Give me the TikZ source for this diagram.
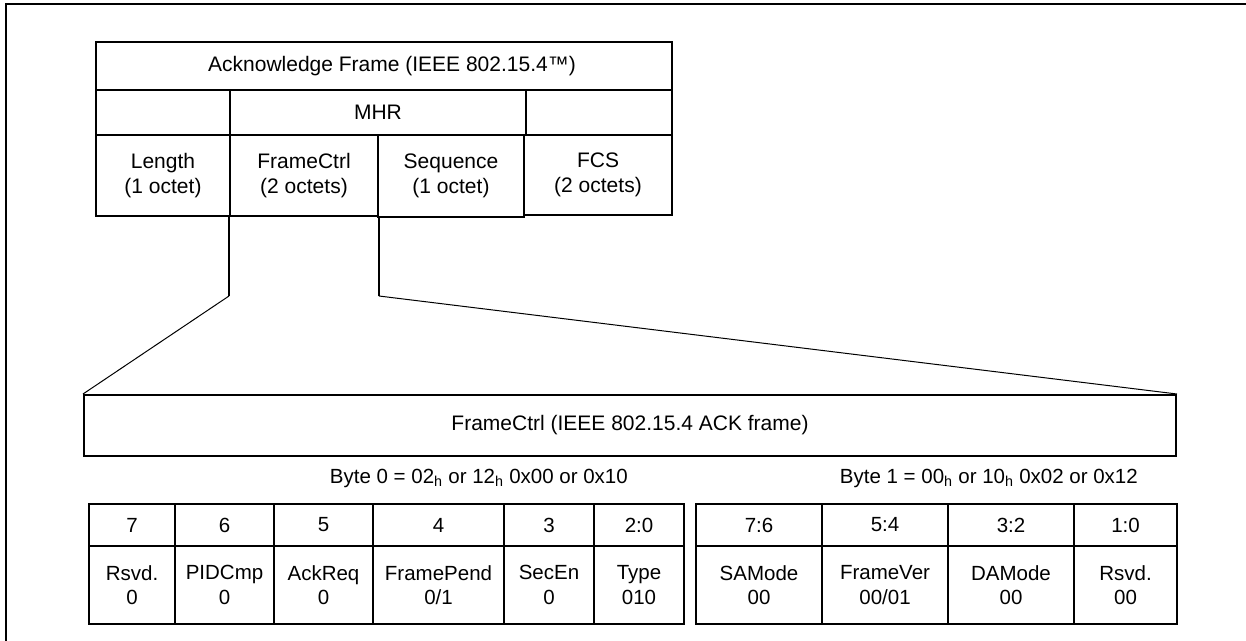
\documentclass[tikz,border=0pt]{standalone}
\usepackage{fontspec}
\setmainfont{Liberation Sans}
\begin{document}
\begin{tikzpicture}[x=1pt,y=-1pt,
  cell/.style={draw, line width=2pt, inner sep=0pt, align=center,
    font=\fontsize{20.5}{24.5}\selectfont, anchor=center},
  topcell/.style={cell, font=\fontsize{21}{24.5}\selectfont},
  lbl/.style={inner sep=0pt, font=\fontsize{20.5}{24.5}\selectfont, anchor=base east},
  thickline/.style={line width=2pt},
  thinline/.style={line width=1pt}]
\useasboundingbox (0,0) rectangle (1246,640);
% outer frame (top and left edges)
\draw[line width=2.5pt] (6,641) -- (6,4) -- (1247,4);
% top table
\node[topcell, minimum width=576pt, minimum height=48pt] (title) at (384,66) {\hspace*{16pt}Acknowledge Frame (IEEE 802.15.4™)};
\node[topcell, minimum width=134pt, minimum height=45pt] (blankL) at (163,112.5) {};
\node[topcell, minimum width=296pt, minimum height=45pt] (mhr) at (378,112.5) {MHR};
\node[topcell, minimum width=146pt, minimum height=45pt] (blankR) at (599,112.5) {};
\node[topcell, minimum width=134pt, minimum height=81pt] (len) at (163,175.5) {Length\\(1 octet)};
\node[topcell, minimum width=148pt, minimum height=81pt] (fc) at (304,175.5) {FrameCtrl\\(2 octets)};
\node[topcell, minimum width=146pt, minimum height=82pt] (seq) at (451,176) {Sequence\\(1 octet)};
\node[topcell, minimum width=148pt, minimum height=80pt] (fcs) at (598,175) {FCS\\(2 octets)};
% expanded FrameCtrl box
\node[topcell, minimum width=1092pt, minimum height=61pt] (big) at (630,425.5) {FrameCtrl (IEEE 802.15.4 ACK frame)};
% connectors
\coordinate (c1) at (fc.south west |- 0,296);
\coordinate (c2) at (fc.south east |- 0,296);
\draw[thickline] (fc.south west) -- (c1);
\draw[thickline] (fc.south east) -- (c2);
\draw[thinline] (c1) -- (big.north west);
\draw[thinline] (c2) -- (big.north east);
% byte labels
\node[lbl] (b0) at (628,483) {Byte 0 = 02\textsubscript{h} or 12\textsubscript{h} 0x00 or 0x10};
\node[lbl] (b1) at (1138,483) {Byte 1 = 00\textsubscript{h} or 10\textsubscript{h} 0x02 or 0x12};
% bit tables
\foreach \n/\c/\w/\bit/\txt in {
  a/132/86/7/{Rsvd.\\0},
  b/224.5/99/6/{PIDCmp\\0},
  c/323.5/99/5/{AckReq\\0},
  d/438.5/131/4/{FramePend\\0/1},
  e/549/90/3/{SecEn\\0},
  f/639/90/2:0/{Type\\010},
  g/759/126/7:6/{SAMode\\00},
  h/885/126/5:4/{FrameVer\\00/01},
  i/1011/126/3:2/{DAMode\\00},
  j/1125.5/103/1:0/{Rsvd.\\00}} {
  \node[cell, minimum width=\w pt, minimum height=42pt] (h\n) at (\c,525) {\bit};
  \node[cell, minimum width=\w pt, minimum height=78pt] (v\n) at (\c,585) {\txt};
}
\end{tikzpicture}
\end{document}
